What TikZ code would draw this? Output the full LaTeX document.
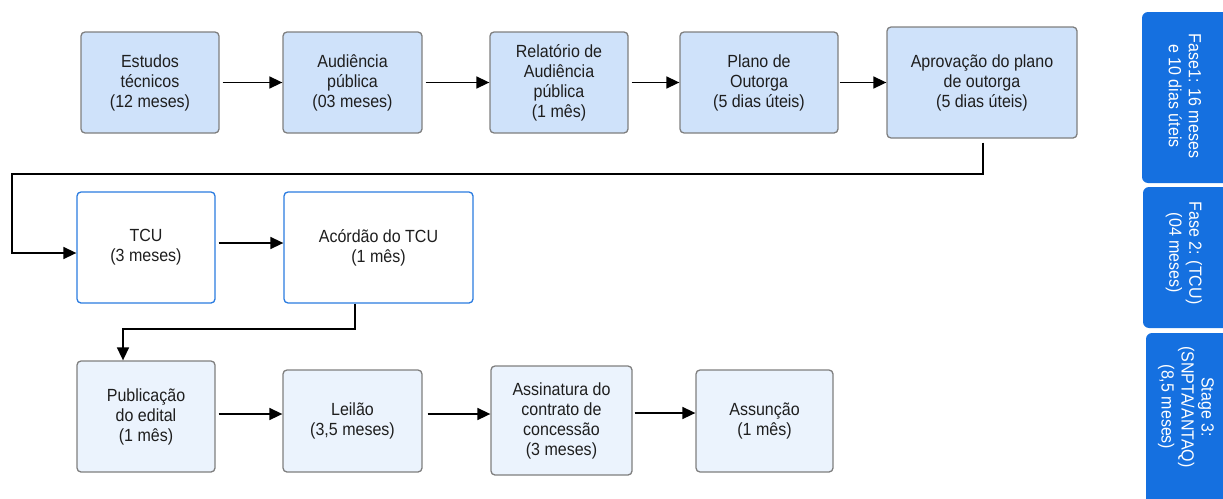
\documentclass[tikz,border=0pt]{standalone}
\usepackage{fontspec}
\setmainfont{Liberation Sans}[FakeStretch=0.91]
\usetikzlibrary{arrows.meta,calc}
\definecolor{fillA}{HTML}{CFE2FA}
\definecolor{fillC}{HTML}{EBF3FD}
\definecolor{edgeG}{HTML}{7F7F7F}
\definecolor{edgeB}{HTML}{2A7BE0}
\definecolor{tabblue}{HTML}{1570E0}
\definecolor{txt}{HTML}{1E1E1E}
\begin{document}
\begin{tikzpicture}[x=1pt,y=-1pt,
  box/.style={draw=edgeG,line width=1.3pt,rounded corners=4pt,align=center,text=txt,
    font=\fontsize{17.6}{20}\selectfont,inner sep=0pt},
  boxA/.style={box,fill=fillA},
  boxB/.style={box,draw=edgeB,fill=white},
  boxC/.style={box,fill=fillC},
  arr/.style={line width=1.6pt,-{Triangle[length=13pt,width=12pt]}},
  tabtext/.style={rotate=-90,text=white,align=center,font=\fontsize{17.6}{20}\selectfont}
]
\useasboundingbox (0,0) rectangle (1223,498);
\begin{scope}
\clip (0,0) rectangle (1223,498);
% tabs
\fill[tabblue,rounded corners=6pt] (1142,12) rectangle (1250,183);
\fill[tabblue,rounded corners=6pt] (1143,187) rectangle (1250,328);
\fill[tabblue,rounded corners=6pt] (1146,333) rectangle (1250,520);
\end{scope}
\node[tabtext] (f1) at (1185,96) {Fase1: 16 meses\\e 10 dias úteis};
\node[tabtext] (f2) at (1184,253) {Fase 2: (TCU)\\(04 meses)};
\node[tabtext] (f3) at (1186,407) {Stage 3:\\(SNPTA/ANTAQ)\\(8,5 meses)};

% row 1
\node[boxA,minimum width=138,minimum height=101] (e1) at (150,82.5) {Estudos\\técnicos\\(12 meses)};
\node[boxA,minimum width=139,minimum height=101] (e2) at (352.5,82.5) {Audiência\\pública\\(03 meses)};
\node[boxA,minimum width=138,minimum height=101] (e3) at (559,82.5) {Relatório de\\Audiência\\pública\\(1 mês)};
\node[boxA,minimum width=158,minimum height=101] (e4) at (759,82.5) {Plano de\\Outorga\\(5 dias úteis)};
\node[boxA,minimum width=190,minimum height=111] (e5) at (982,82.5) {Aprovação do plano\\de outorga\\(5 dias úteis)};

% row 2
\node[boxB,minimum width=138,minimum height=111] (t1) at (146,247.5) {TCU\\(3 meses)};
\node[boxB,minimum width=189,minimum height=111] (t2) at (378.5,247.5) {Acórdão do TCU\\(1 mês)};

% row 3
\node[boxC,minimum width=138,minimum height=111] (p1) at (146,416.5) {Publicação\\do edital\\(1 mês)};
\node[boxC,minimum width=139,minimum height=102] (p2) at (352.5,421) {Leilão\\(3,5 meses)};
\node[boxC,minimum width=141,minimum height=109] (p3) at (561.5,420.5) {Assinatura do\\contrato de\\concessão\\(3 meses)};
\node[boxC,minimum width=137,minimum height=102] (p4) at (764.5,421) {Assunção\\(1 mês)};

% arrows row 1
\draw[arr] ([xshift=3pt]e1.east) -- (e2.west);
\draw[arr] ([xshift=3pt]e2.east) -- (e3.west);
\draw[arr] ([xshift=3pt]e3.east) -- (e4.west);
\draw[arr] ([xshift=1pt]e4.east) -- (e5.west);

% e5 -> t1
\coordinate (c1) at (12,174);
\draw[arr] ([xshift=1pt,yshift=-4pt]e5.south) -- ([xshift=1pt]e5.south |- c1) -- (c1) |- ([yshift=-5.5pt]t1.west);

% row 2
\draw[arr] ([xshift=3pt,yshift=4.5pt]t1.east) -- ([yshift=4.5pt]t2.west);

% t2 -> p1
\coordinate (c2) at (123,329);
\draw[arr] ([xshift=-23.5pt]t2.south) |- (c2) -- (c2 |- p1.north);

% row 3
\draw[arr] ([xshift=3pt,yshift=2.5pt]p1.east) -- ([yshift=7pt]p2.west);
\draw[arr] ([xshift=5pt,yshift=7pt]p2.east) -- ([yshift=6.5pt]p3.west);
\draw[arr] ([xshift=2pt,yshift=7.5pt]p3.east) -- ([yshift=8pt]p4.west);
\end{tikzpicture}
\end{document}
